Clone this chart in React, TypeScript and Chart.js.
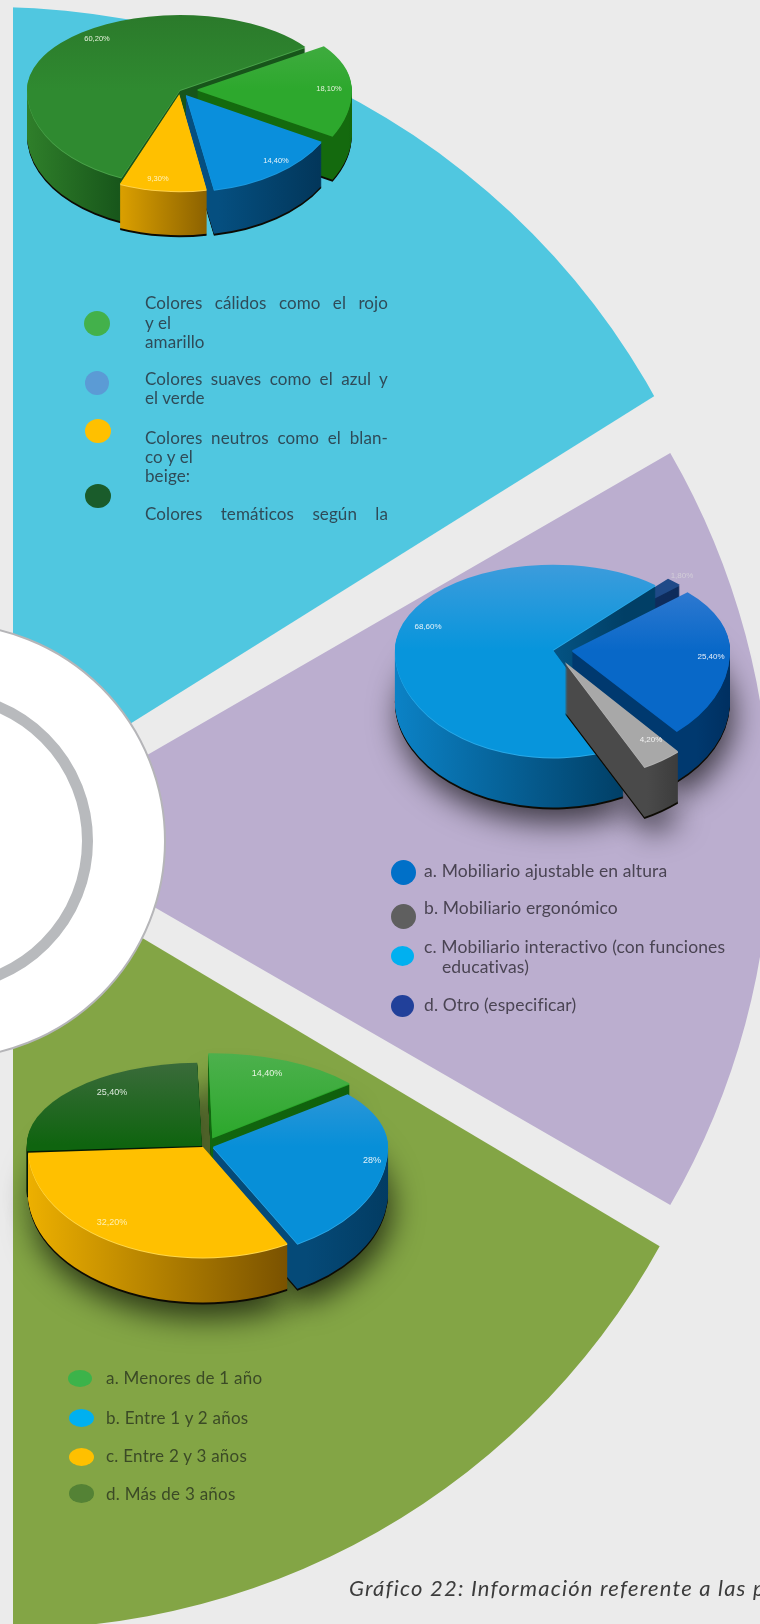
import React, { useEffect, useRef } from 'react';
import { Chart, registerables } from 'chart.js';

Chart.register(...registerables);

// ---- data ----
const pie1Labels = ['18,10%', '14,40%', '9,30%', '60,20%'];
const pie1Values = [18.1, 14.4, 9.3, 60.2];
const pie2Labels = ['25,40%', '4,20%', '68,60%', '1,80%'];
const pie2Values = [25.4, 4.2, 68.6, 1.8];
const pie3Labels = ['14,40%', '28%', '32,20%', '25,40%'];
const pie3Values = [14.4, 28, 32.2, 25.4];

const colorsLegend = ['Colores cálidos como el rojo', 'y el', 'amarillo', 'Colores suaves como el azul y', 'el verde', 'Colores neutros como el blan-', 'co y el', 'beige:', 'Colores temáticos según la'];
const furnitureLegend = ['a. Mobiliario ajustable en altura', 'b. Mobiliario ergonómico', 'c. Mobiliario interactivo (con funciones', 'educativas)', 'd. Otro (especificar)'];
const ageLegend = ['a. Menores de 1 año', 'b. Entre 1 y 2 años', 'c. Entre 2 y 3 años', 'd. Más de 3 años'];
const caption = 'Gráfico 22: Información referente a las p';

// ---- layout & style (separate from the data) ----
const PAGE_BG = '#ebebeb';
const FONT = "Lato, 'Noto Sans', sans-serif";

const sectors = [
  { cx: -9, cy: 767, r: 760, rotation: -60, sweep: 150, color: '#50c7e0', clip: [[13, 0], [760, 0], [760, 330], [13, 797]] },
  { cx: 19, cy: 829, r: 752, rotation: 60, sweep: 60, color: '#bbaecf', clip: null },
  { cx: 11, cy: 888, r: 741, rotation: 85, sweep: 135, color: '#83a545', clip: [[13, 861], [760, 1306], [760, 1624], [13, 1624]] },
];

type SliceStyle = { top: string; base: string; rim: string; wallL: string; wallR: string; offset: number };
type Pie = {
  cx: number; cy: number; R: number; kUp: number; kDown: number; depth: number; rotation: number;
  shadow: boolean; values: number[]; labels: string[]; slices: SliceStyle[];
  labelPos: number[][]; labelFont: string; labelColors: string[];
};

const pies: Pie[] = [
  {
    cx: 180, cy: 90, R: 153, kUp: 0.49, kDown: 0.62, depth: 44, rotation: 55, shadow: false,
    values: pie1Values, labels: pie1Labels,
    slices: [
      { top: '#4cae4c', base: '#2da82d', rim: '#2da82d', wallL: '#146a0e', wallR: '#0f5a08', offset: 68 },
      { top: '#3d96d6', base: '#0a8fdc', rim: '#1c9ae0', wallL: '#054f80', wallR: '#023558', offset: 40 },
      { top: '#ffc000', base: '#ffc000', rim: '#ffd24a', wallL: '#dba000', wallR: '#8c6200', offset: 28 },
      { top: '#2b7a2b', base: '#2f8a30', rim: '#4aa34a', wallL: '#2f7f2a', wallR: '#17551a', offset: 0 },
    ],
    labelPos: [[329, 89], [276, 161], [158, 179], [97, 39]],
    labelFont: "7.5px 'Liberation Sans Narrow', 'Liberation Sans', sans-serif",
    labelColors: ['#e6f2dc', '#e6f2f8', '#fff2c0', '#e6f2dc'],
  },
  {
    cx: 553, cy: 650, R: 158, kUp: 0.54, kDown: 0.68, depth: 50, rotation: 47, shadow: true,
    values: pie2Values, labels: pie2Labels,
    slices: [
      { top: '#3f80d4', base: '#0868c8', rim: '#0868c8', wallL: '#00396f', wallR: '#002a58', offset: 76 },
      { top: '#a8a8a8', base: '#a8a8a8', rim: '#b5b5b5', wallL: '#4a4a4a', wallR: '#3a3a3a', offset: 85 },
      { top: '#3c9cdc', base: '#0795dc', rim: '#29a9e8', wallL: '#0b82c6', wallR: '#013f66', offset: 0 },
      { top: '#1f4a88', base: '#1f4a88', rim: '#1f4a88', wallL: '#12376e', wallR: '#0d2a58', offset: 36 },
    ],
    labelPos: [[711, 657], [651, 740], [428, 627], [682, 576]],
    labelFont: "8px 'Liberation Sans Narrow', 'Liberation Sans', sans-serif",
    labelColors: ['#e6eef8', '#f2f2f2', '#e6f2f8', '#d2cdd8'],
  },
  {
    cx: 204, cy: 1146, R: 175, kUp: 0.47, kDown: 0.63, depth: 45, rotation: -1.5, shadow: true,
    values: pie3Values, labels: pie3Labels,
    slices: [
      { top: '#4cb04c', base: '#2ca82c', rim: '#2ca82c', wallL: '#146e12', wallR: '#0f5e0c', offset: 80 },
      { top: '#3d9ad8', base: '#078fd8', rim: '#2aa8e8', wallL: '#054a78', wallR: '#023a60', offset: 36 },
      { top: '#ffc000', base: '#ffc000', rim: '#ffd84a', wallL: '#edb000', wallR: '#7a5200', offset: 8 },
      { top: '#3a6b3a', base: '#0f640f', rim: '#0f640f', wallL: '#041a04', wallR: '#041a04', offset: 12 },
    ],
    labelPos: [[267, 1074], [372, 1161], [112, 1223], [112, 1093]],
    labelFont: "9px 'Liberation Sans Narrow', 'Liberation Sans', sans-serif",
    labelColors: ['#e6f5e0', '#e6f2f8', '#fff0b0', '#dceadc'],
  },
];

const dots = [
  { x: 97, y: 323, rx: 13, ry: 12.5, c: '#43b14b' },
  { x: 97, y: 383, rx: 12, ry: 12, c: '#5b9bd5' },
  { x: 98, y: 431, rx: 13, ry: 12, c: '#ffc000' },
  { x: 98, y: 496, rx: 13, ry: 12, c: '#1a5c2b' },
  { x: 403, y: 872, rx: 12.5, ry: 12.5, c: '#0070c8' },
  { x: 403, y: 916, rx: 12.5, ry: 12.5, c: '#5f5f5f' },
  { x: 402, y: 956, rx: 11.5, ry: 10, c: '#00b0f0' },
  { x: 402, y: 1006, rx: 11.5, ry: 11, c: '#21409a' },
  { x: 80, y: 1378, rx: 12, ry: 8.5, c: '#3cb34a' },
  { x: 81, y: 1418, rx: 12.5, ry: 9, c: '#00b0f0' },
  { x: 81, y: 1457, rx: 12.5, ry: 9, c: '#ffc000' },
  { x: 81, y: 1493, rx: 12.5, ry: 9.5, c: '#548235' },
];

const colorsY = [303, 323, 342, 379, 398, 438, 457, 476, 514];
const colorsJustified = [true, false, false, true, false, true, false, false, true];
const furnitureY = [871, 908, 947, 967, 1005];
const furnitureX = [424, 424, 424, 442, 424];
const ageY = [1378, 1418, 1456, 1494];

function pie3dPlugin(p: Pie, originX: number, originY: number) {
  return {
    id: 'pie3d',
    beforeDatasetDraw: () => false,
    afterDatasetsDraw(chart: any) {
      const ctx: CanvasRenderingContext2D = chart.ctx;
      const W = chart.width, H = chart.height;
      const cy = p.cy - originY;
      const arcs: any[] = chart.getDatasetMeta(0).data;
      const midSin = (a: any) => Math.sin((a.startAngle + a.endAngle) / 2);
      const order = arcs.map((_, i) => i).sort((a, b) => midSin(arcs[a]) - midSin(arcs[b]));

      const half = (el: any, top: number, h: number, k: number, dy: number) => {
        ctx.save();
        ctx.beginPath();
        ctx.rect(0, top, W, h);
        ctx.clip();
        ctx.translate(0, cy + dy);
        ctx.scale(1, k);
        ctx.translate(0, -cy);
        el.draw(ctx);
        ctx.restore();
      };
      const paint = (el: any, fill: any, dy: number) => {
        const prev = el.options;
        el.options = { ...prev, backgroundColor: fill };
        half(el, 0, cy + dy, p.kUp, dy);
        half(el, cy + dy, H - cy - dy, p.kDown, dy);
        el.options = prev;
      };
      const wallGradient = (el: any, s: SliceStyle) => {
        let min = Infinity, max = -Infinity;
        const off = (s.offset / 4) * Math.cos((el.startAngle + el.endAngle) / 2);
        for (let t = 0; t <= 60; t++) {
          const a = el.startAngle + ((el.endAngle - el.startAngle) * t) / 60;
          if (Math.sin(a) < -0.02) continue;
          const x = el.x + off + el.outerRadius * Math.cos(a);
          min = Math.min(min, x);
          max = Math.max(max, x);
        }
        if (!isFinite(min)) { min = el.x - el.outerRadius; max = el.x + el.outerRadius; }
        const g = ctx.createLinearGradient(min, 0, max + 1, 0);
        g.addColorStop(0, s.wallL);
        g.addColorStop(1, s.wallR);
        return g;
      };

      if (p.shadow) {
        ctx.save();
        ctx.shadowColor = 'rgba(0,0,0,0.66)';
        ctx.shadowBlur = 30;
        ctx.shadowOffsetX = 4;
        ctx.shadowOffsetY = 16;
        ctx.translate(0, cy + p.depth);
        ctx.scale(1, p.kDown);
        ctx.translate(0, -cy);
        arcs.forEach((el) => {
          const prev = el.options;
          el.options = { ...prev, backgroundColor: '#111' };
          el.draw(ctx);
          el.options = prev;
        });
        ctx.restore();
      }

      order.forEach((i) => {
        const el = arcs[i];
        const s = p.slices[i];
        paint(el, '#0d0b04', p.depth + 2);
        paint(el, '#0d0b04', p.depth + 1);
        const wall = wallGradient(el, s);
        for (let d = p.depth; d >= 2; d--) paint(el, wall, d);
        paint(el, s.rim, 1);
        const top = ctx.createLinearGradient(0, cy - p.R, 0, cy + p.R);
        top.addColorStop(0, s.top);
        top.addColorStop(0.5, s.base);
        top.addColorStop(1, s.base);
        paint(el, top, 0);
      });

      ctx.save();
      ctx.font = p.labelFont;
      ctx.textAlign = 'center';
      ctx.textBaseline = 'middle';
      p.labels.forEach((t, i) => {
        ctx.fillStyle = p.labelColors[i];
        ctx.fillText(t, p.labelPos[i][0] - originX, p.labelPos[i][1] - originY);
      });
      ctx.restore();
    },
  };
}

function Sector({ s }: { s: (typeof sectors)[number] }) {
  const ref = useRef<HTMLCanvasElement>(null);
  const S = 2 * s.r + 4;
  const left = s.cx - S / 2, top = s.cy - S / 2;
  useEffect(() => {
    const chart = new Chart(ref.current!, {
      type: 'pie',
      data: {
        datasets: [{
          data: [s.sweep, 360 - s.sweep],
          backgroundColor: [s.color, 'rgba(0,0,0,0)'],
          borderWidth: 0,
          radius: s.r,
        } as any],
      },
      options: {
        animation: false, responsive: false, events: [], rotation: s.rotation,
        layout: { padding: 0 },
        plugins: { legend: { display: false }, tooltip: { enabled: false } },
      },
    });
    return () => chart.destroy();
  }, []);
  const clipPath = s.clip ? `polygon(${s.clip.map(([x, y]) => `${x - left}px ${y - top}px`).join(',')})` : undefined;
  return <canvas ref={ref} width={S} height={S} style={{ position: 'absolute', left, top, width: S, height: S, clipPath }} />;
}

function Pie3D({ p }: { p: Pie }) {
  const ref = useRef<HTMLCanvasElement>(null);
  const S = 2 * p.R + 160;
  const left = p.cx - S / 2, top = p.cy - S / 2;
  useEffect(() => {
    const chart = new Chart(ref.current!, {
      type: 'pie',
      data: {
        labels: p.labels,
        datasets: [{
          data: p.values,
          backgroundColor: p.slices.map((s) => s.base),
          offset: p.slices.map((s) => s.offset),
          borderWidth: 0,
          radius: p.R,
          clip: false,
        } as any],
      },
      options: {
        animation: false, responsive: false, events: [], rotation: p.rotation,
        layout: { padding: 0 },
        plugins: { legend: { display: false }, tooltip: { enabled: false } },
      },
      plugins: [pie3dPlugin(p, left, top) as any],
    });
    return () => chart.destroy();
  }, []);
  return <canvas ref={ref} width={S} height={S} style={{ position: 'absolute', left, top, width: S, height: S }} />;
}

function Line({ x, y, text, color, width, size = 17, spacing = 0.1, italic = false }: any) {
  return (
    <div style={{
      position: 'absolute', left: x, top: y - 14, height: 28, lineHeight: '28px', width: width ?? undefined,
      whiteSpace: 'nowrap', color, fontFamily: FONT, fontSize: size, letterSpacing: spacing,
      fontStyle: italic ? 'italic' : 'normal',
      textAlign: width ? 'justify' : 'left', textAlignLast: width ? 'justify' : 'auto',
    } as any}>{text}</div>
  );
}

export default function App() {
  return (
    <div style={{ position: 'absolute', left: 0, top: 0, width: 760, height: 1624, overflow: 'hidden', background: PAGE_BG }}>
      {sectors.map((s, i) => <Sector key={i} s={s} />)}
      <div style={{ position: 'absolute', left: -270, top: 623, width: 436, height: 436, boxSizing: 'border-box', borderRadius: '50%', background: '#fff', border: '2px solid #b5b5b8' }} />
      <div style={{ position: 'absolute', left: -209, top: 690, width: 302, height: 302, boxSizing: 'border-box', borderRadius: '50%', border: '11px solid #b8babd' }} />
      {pies.map((p, i) => <Pie3D key={i} p={p} />)}
      {dots.map((d, i) => (
        <div key={i} style={{ position: 'absolute', left: d.x - d.rx, top: d.y - d.ry, width: 2 * d.rx, height: 2 * d.ry, borderRadius: '50%', background: d.c }} />
      ))}
      {colorsLegend.map((t, i) => (
        <Line key={i} x={145} y={colorsY[i]} text={t} color="#2f4b58" width={colorsJustified[i] ? 243 : undefined} />
      ))}
      {furnitureLegend.map((t, i) => (
        <Line key={i} x={furnitureX[i]} y={furnitureY[i]} text={t} color="#4a4453" size={17.5} spacing={0.12} />
      ))}
      {ageLegend.map((t, i) => (
        <Line key={i} x={106} y={ageY[i]} text={t} color="#3b4a26" spacing={0.25} />
      ))}
      <Line x={349} y={1588} text={caption} color="#3c3c3c" size={22} spacing={1.2} italic />
    </div>
  );
}
